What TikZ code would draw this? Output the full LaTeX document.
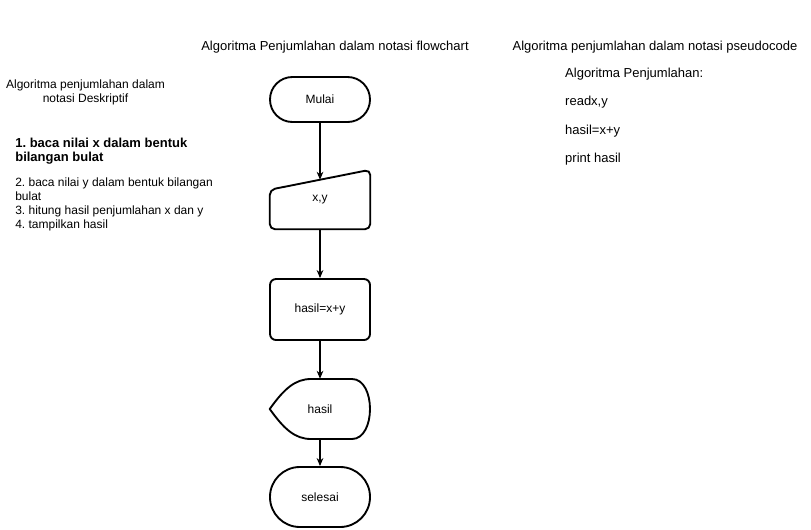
\documentclass[tikz,border=0pt]{standalone}
\usepackage{fontspec}
\setmainfont{Liberation Sans}
\frenchspacing
\usetikzlibrary{arrows.meta,calc}
\begin{document}
\begin{tikzpicture}[x=0.75pt, y=-0.75pt,
        every node/.style={font=\fontsize{9}{10.5}\selectfont},
        besar/.style={font=\fontsize{9.75}{10.5}\selectfont},
        outline/.style={line width=1.4pt, line join=round},
        terminal/.style={outline, draw, minimum width=75pt, inner sep=0pt},
        slot/.style={minimum width=75pt, inner sep=0pt},
        flow/.style={-{Stealth[length=6pt, width=5pt]}, line width=0.8pt}]
    \useasboundingbox (0,0) rectangle (811,529);

    \node[besar] (judulflow) at (335,47) {Algoritma Penjumlahan dalam notasi flowchart};
    \node[besar] (judulpseudo) at (655,47) {Algoritma penjumlahan dalam notasi pseudocode};
    \node[align=center] (judulderes) at (85.5,92) {Algoritma penjumlahan dalam\\notasi Deskriptif};

    \node[anchor=west, align=left, font=\fontsize{9.75}{10.5}\selectfont\bfseries] (langkah1) at (10.6,151)
        {1. baca nilai x dalam bentuk\\bilangan bulat};
    \node[anchor=west, align=left] (langkah2) at (10.6,204)
        {2. baca nilai y dalam bentuk bilangan\\bulat\\3. hitung hasil penjumlahan x dan y\\4. tampilkan hasil};

    \node[besar, anchor=west] (pseudo1) at (560.5,74) {Algoritma Penjumlahan:};
    \node[besar, anchor=west] (pseudo2) at (560.5,102) {readx,y};
    \node[besar, anchor=west] (pseudo3) at (560.5,131) {hasil=x+y};
    \node[besar, anchor=west] (pseudo4) at (560.5,159) {print hasil};

    \node[terminal, minimum height=33.75pt, rounded corners=16.8pt] (mulai) at (320,99.5) {Mulai};

    \node[slot, minimum height=44.25pt] (baca) at (320,199.5) {x,y};
    \draw[outline, rounded corners=4pt] (baca.south west) -- ($(baca.north west)+(0,20)$)
        -- (baca.north east) -- (baca.south east) -- cycle;
    \coordinate (bacatop) at ($(baca.north)+(0,10)$);

    \node[terminal, minimum height=45.75pt, rounded corners=4.5pt] (hitung) at (320,309.5) {hasil=x+y};

    \node[slot, minimum height=45pt] (tampil) at (320,409) {hasil};
    \draw[outline] (tampil.west) .. controls (284,389) and (295,379) .. (311,379) -- (352,379)
        .. controls (376,379) and (376,439) .. (352,439) -- (311,439)
        .. controls (295,439) and (284,429) .. (tampil.west) -- cycle;

    \node[terminal, minimum height=45pt, rounded corners=22.4pt] (selesai) at (320,497) {selesai};

    \draw[flow] (mulai.south) -- (bacatop);
    \draw[flow] (baca) -- (hitung);
    \draw[flow] (hitung) -- (tampil);
    \draw[flow] (tampil) -- (selesai);
\end{tikzpicture}
\end{document}
